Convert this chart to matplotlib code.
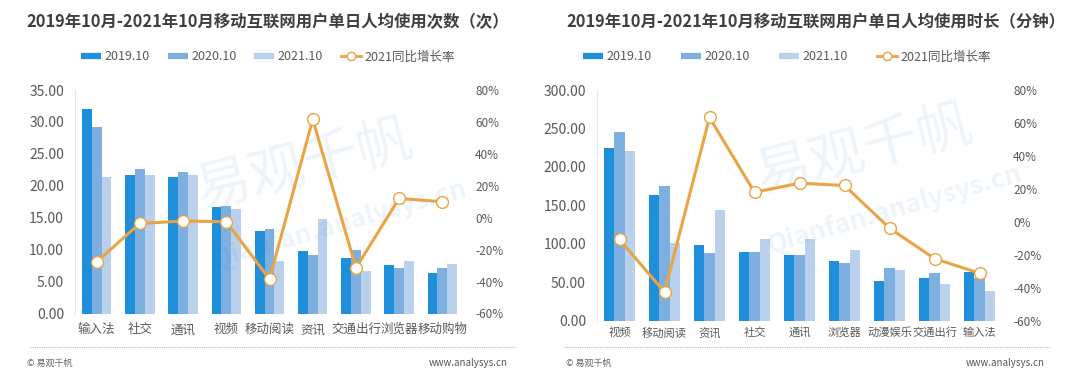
import matplotlib
matplotlib.use("Agg")
import matplotlib.pyplot as plt
import numpy as np
from matplotlib.lines import Line2D
from matplotlib.ticker import FuncFormatter, MultipleLocator

plt.rcParams['font.family'] = ['Noto Sans CJK SC', 'DejaVu Sans']

# ---------------- data ----------------
left_title = "2019年10月-2021年10月移动互联网用户单日人均使用次数（次）"
left_cats = ["输入法", "社交", "通讯", "视频", "移动阅读", "资讯", "交通出行", "浏览器", "移动购物"]
left_2019 = [32.0, 21.7, 21.4, 16.7, 12.9, 9.8, 8.7, 7.6, 6.3]
left_2020 = [29.2, 22.6, 22.2, 16.8, 13.3, 9.2, 10.0, 7.2, 7.1]
left_2021 = [21.3, 21.7, 21.7, 16.4, 8.2, 14.8, 6.7, 8.2, 7.7]
left_yoy = [-27.6, -3.6, -2.1, -2.5, -38.5, 61.6, -31.4, 12.1, 10.0]

right_title = "2019年10月-2021年10月移动互联网用户单日人均使用时长（分钟）"
right_cats = ["视频", "移动阅读", "资讯", "社交", "通讯", "浏览器", "动漫娱乐", "交通出行", "输入法"]
right_2019 = [225.0, 163.4, 98.0, 89.7, 85.4, 78.0, 52.0, 55.5, 63.7]
right_2020 = [245.0, 175.0, 87.6, 89.7, 85.4, 75.0, 68.0, 61.5, 55.0]
right_2021 = [220.6, 100.6, 144.0, 105.8, 105.8, 91.9, 65.9, 47.7, 38.6]
right_yoy = [-10.8, -42.7, 63.3, 17.9, 23.4, 22.0, -3.9, -22.4, -31.3]

series_labels = ["2019.10", "2020.10", "2021.10", "2021同比增长率"]

# ---------------- style ----------------
C19, C20, C21 = "#1E8FD8", "#7DB0E0", "#B9D1EC"
CLINE = "#E9A444"
TXT = "#595959"
TITLE_C = "#3F3F3F"

fig = plt.figure(figsize=(10.8, 3.83), dpi=100)
W, H = 1080.0, 383.0


def px_axes(x0, y0, x1, y1):
    return fig.add_axes([x0 / W, 1 - y1 / H, (x1 - x0) / W, (y1 - y0) / H])


def panel(ax, cats, s19, s20, s21, yoy, ymax, ystep, label_pad, xfs):
    x = np.arange(len(cats))
    bw = 0.227
    ax.bar(x - bw, s19, bw, color=C19, zorder=2)
    ax.bar(x, s20, bw, color=C20, zorder=2)
    ax.bar(x + bw, s21, bw, color=C21, zorder=2)
    ax.set_xlim(-0.5, len(cats) - 0.5)
    ax.set_ylim(0, ymax)
    ax.yaxis.set_major_locator(MultipleLocator(ystep))
    ax.yaxis.set_major_formatter(FuncFormatter(lambda v, p: f"{v:.2f}"))
    ax.set_xticks(x)
    ax.set_xticklabels(cats)
    ax.tick_params(axis='x', length=0, colors=TXT, labelsize=xfs, pad=label_pad)
    ax.tick_params(axis='y', length=0, colors=TXT, labelsize=10, pad=8)
    for s in ["top", "right", "bottom"]:
        ax.spines[s].set_visible(False)
    ax.spines["left"].set_color("#E6E6E6")
    ax.spines["left"].set_linewidth(0.8)

    ax2 = ax.twinx()
    ax2.plot(x, yoy, color=CLINE, lw=2.2, marker='o', ms=8.5,
             mfc="white", mec=CLINE, mew=1.0, zorder=5)
    ax2.set_ylim(-60, 80)
    ax2.yaxis.set_major_locator(MultipleLocator(20))
    ax2.yaxis.set_major_formatter(FuncFormatter(lambda v, p: f"{v:.0f}%"))
    ax2.tick_params(axis='y', length=0, colors=TXT, labelsize=8.5, pad=8)
    for s in ax2.spines.values():
        s.set_visible(False)
    ax2.set_zorder(ax.get_zorder() + 1)
    ax2.patch.set_visible(False)
    return ax2


axL = px_axes(75, 90, 464, 313.5)
panel(axL, left_cats, left_2019, left_2020, left_2021, left_yoy, 35, 5, 7, 9)

axR = px_axes(597, 90, 1002, 320.5)
panel(axR, right_cats, right_2019, right_2020, right_2021, right_yoy, 300, 50, 5, 8.1)

# titles
fig.text(268 / W, 1 - 22 / H, left_title, ha='center', va='center',
         fontsize=11.8, fontweight='bold', color=TITLE_C)
fig.text(816 / W, 1 - 22 / H, right_title, ha='center', va='center',
         fontsize=11.8, fontweight='bold', color=TITLE_C)

# legends
handles = [
    Line2D([0], [0], color=C19, lw=4.5, solid_capstyle='butt'),
    Line2D([0], [0], color=C20, lw=4.5, solid_capstyle='butt'),
    Line2D([0], [0], color=C21, lw=4.5, solid_capstyle='butt'),
    Line2D([0], [0], color=CLINE, lw=2, marker='o', ms=6, mfc='white', mec=CLINE),
]
for cx, cs in ((268, 1.4), (787, 2.3)):
    fig.legend(handles, series_labels, loc='center', bbox_to_anchor=(cx / W, 1 - 57 / H),
               ncol=4, frameon=False, fontsize=9, handlelength=1.6, handletextpad=0.3,
               columnspacing=cs, labelcolor=TXT)

# watermarks
wm = dict(color="#3E8ED0", alpha=0.09, ha='center', va='center', zorder=0)
fig.text(305 / W, 1 - 165 / H, "易观千帆", fontsize=40, rotation=14, **wm)
fig.text(340 / W, 1 - 225 / H, "Qianfan.analysys.cn", fontsize=19, fontweight='bold', rotation=16, **wm)
fig.text(865 / W, 1 - 150 / H, "易观千帆", fontsize=40, rotation=14, **wm)
fig.text(895 / W, 1 - 210 / H, "Qianfan.analysys.cn", fontsize=19, fontweight='bold', rotation=16, **wm)

# footer
for x0, x1 in ((30, 516), (564, 1050)):
    fig.add_artist(Line2D([x0 / W, x1 / W], [1 - 347 / H] * 2, color="#BBBBBB",
                          lw=0.8, ls=(0, (1, 1))))
fig.text(27 / W, 1 - 363 / H, "© 易观千帆", fontsize=6.5, color="#666666", va='center')
fig.text(566 / W, 1 - 363 / H, "© 易观千帆", fontsize=6.5, color="#666666", va='center')
fig.text(508 / W, 1 - 363 / H, "www.analysys.cn", fontsize=7, color="#555555", va='center', ha='right')
fig.text(1045 / W, 1 - 363 / H, "www.analysys.cn", fontsize=7, color="#555555", va='center', ha='right')

fig.savefig("out.png", dpi=100, facecolor='white')
